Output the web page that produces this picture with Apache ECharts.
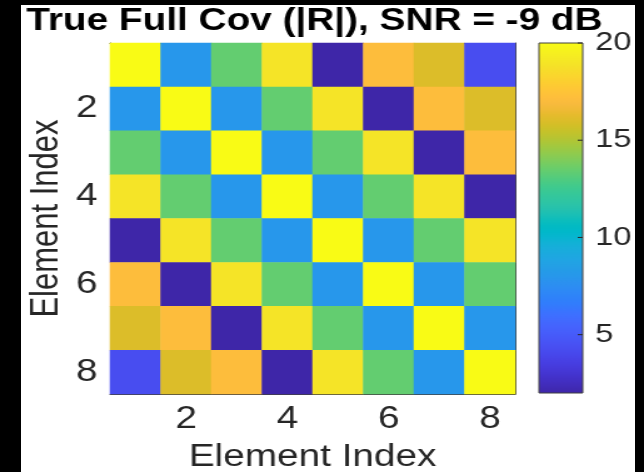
<!DOCTYPE html>
<html>
<head>
<meta charset="utf-8">
<script src="https://cdn.jsdelivr.net/npm/echarts@6/dist/echarts.min.js"></script>
<style>
html, body { margin: 0; padding: 0; background: #000; width: 644px; height: 472px; overflow: hidden; }
#paper { position: absolute; left: 21px; top: 5px; width: 614px; height: 467px; background: #fff; }
/* the reference figure is stretched horizontally, so draw narrower and stretch */
#main { position: absolute; left: 0; top: 0; width: 515px; height: 472px; transform: scaleX(1.2505); transform-origin: 0 0; }
</style>
</head>
<body>
<div id="paper"></div>
<div id="main"></div>
<script>
// element indices
var xCats = ['1', '2', '3', '4', '5', '6', '7', '8'];
var yCats = ['1', '2', '3', '4', '5', '6', '7', '8'];
// |R| (rows top to bottom)
var covAbs = [
    [20.0, 8.0, 13.4, 18.9, 2.0, 17.1, 16.0, 4.3],
    [8.0, 20.0, 8.0, 13.4, 18.9, 2.0, 17.1, 16.0],
    [13.4, 8.0, 20.0, 8.0, 13.4, 18.9, 2.0, 17.1],
    [18.9, 13.4, 8.0, 20.0, 8.0, 13.4, 18.9, 2.0],
    [2.0, 18.9, 13.4, 8.0, 20.0, 8.0, 13.4, 18.9],
    [17.1, 2.0, 18.9, 13.4, 8.0, 20.0, 8.0, 13.4],
    [16.0, 17.1, 2.0, 18.9, 13.4, 8.0, 20.0, 8.0],
    [4.3, 16.0, 17.1, 2.0, 18.9, 13.4, 8.0, 20.0]
];
var colorLimits = [2.0, 20];
var cbTicks = [5, 10, 15, 20];

// parula, 64 entries
var parula = [
    [0.2422,0.1504,0.6603],[0.2504,0.1650,0.7076],[0.2578,0.1818,0.7511],[0.2647,0.1978,0.7952],
    [0.2706,0.2147,0.8364],[0.2751,0.2342,0.8710],[0.2783,0.2559,0.8991],[0.2803,0.2782,0.9221],
    [0.2813,0.3006,0.9414],[0.2810,0.3228,0.9579],[0.2795,0.3447,0.9717],[0.2760,0.3667,0.9829],
    [0.2699,0.3892,0.9906],[0.2602,0.4123,0.9952],[0.2440,0.4358,0.9988],[0.2206,0.4603,0.9973],
    [0.1963,0.4847,0.9892],[0.1834,0.5074,0.9798],[0.1786,0.5289,0.9682],[0.1764,0.5499,0.9520],
    [0.1687,0.5703,0.9359],[0.1540,0.5902,0.9218],[0.1460,0.6091,0.9079],[0.1380,0.6276,0.8973],
    [0.1248,0.6459,0.8883],[0.1113,0.6635,0.8763],[0.0952,0.6798,0.8598],[0.0689,0.6948,0.8394],
    [0.0297,0.7082,0.8163],[0.0036,0.7203,0.7917],[0.0067,0.7312,0.7660],[0.0433,0.7411,0.7394],
    [0.0964,0.7500,0.7120],[0.1408,0.7584,0.6842],[0.1717,0.7670,0.6554],[0.1938,0.7758,0.6251],
    [0.2161,0.7843,0.5923],[0.2470,0.7918,0.5567],[0.2906,0.7973,0.5188],[0.3406,0.8008,0.4789],
    [0.3909,0.8029,0.4354],[0.4456,0.8024,0.3909],[0.5044,0.7993,0.3480],[0.5616,0.7942,0.3045],
    [0.6174,0.7876,0.2612],[0.6720,0.7793,0.2227],[0.7242,0.7698,0.1910],[0.7738,0.7598,0.1646],
    [0.8203,0.7498,0.1535],[0.8634,0.7406,0.1596],[0.9035,0.7330,0.1774],[0.9393,0.7288,0.2100],
    [0.9728,0.7298,0.2394],[0.9956,0.7434,0.2371],[0.9970,0.7659,0.2199],[0.9952,0.7893,0.2028],
    [0.9892,0.8136,0.1885],[0.9786,0.8386,0.1766],[0.9676,0.8639,0.1643],[0.9610,0.8890,0.1537],
    [0.9597,0.9135,0.1423],[0.9628,0.9373,0.1265],[0.9691,0.9606,0.1064],[0.9769,0.9839,0.0805]
];
var parulaCss = parula.map(function (c) {
    return 'rgb(' + Math.round(c[0] * 255) + ',' + Math.round(c[1] * 255) + ',' + Math.round(c[2] * 255) + ')';
});
var cbStops = parulaCss.map(function (c, i) {
    return { offset: i / (parulaCss.length - 1), color: c };
});

var heatData = [];
covAbs.forEach(function (row, i) {
    row.forEach(function (v, j) {
        heatData.push([j, i, v]);
    });
});

var font = 'Liberation Sans, Arial, Helvetica, sans-serif';
var ink = '#262626';
var boxLine = { show: true, lineStyle: { color: '#404040', width: 1 } };
var evenOnly = function (idx) { return idx % 2 === 1; };
var catTick = { show: true, inside: true, length: 4, alignWithLabel: true, interval: evenOnly, lineStyle: { color: ink, width: 1 } };

var chart = echarts.init(document.getElementById('main'));
var option = {
    animation: false,
    textStyle: { fontFamily: font },
    title: {
        text: 'True Full Cov (|R|), SNR = -9 dB',
        left: 21,
        top: 6,
        padding: 0,
        textStyle: { fontFamily: font, fontSize: 31, fontWeight: 'bold', color: '#000' }
    },
    grid: [
        { left: 88, top: 43, width: 324, height: 351, outerBoundsMode: 'none', containLabel: false },
        { left: 431, top: 43, width: 35, height: 350, outerBoundsMode: 'none', containLabel: false }
    ],
    xAxis: [
        {
            type: 'category', gridIndex: 0, data: xCats, position: 'bottom',
            name: 'Element Index', nameLocation: 'middle', nameGap: 48, nameMoveOverlap: false,
            nameTextStyle: { fontFamily: font, fontSize: 31, color: ink },
            axisLine: boxLine, axisTick: catTick,
            axisLabel: { interval: evenOnly, fontSize: 31, color: ink, margin: 10 },
            splitLine: { show: false }
        },
        {
            type: 'category', gridIndex: 0, data: xCats, position: 'top',
            axisLine: boxLine, axisTick: catTick, axisLabel: { show: false }, splitLine: { show: false }
        },
        { type: 'value', gridIndex: 1, min: 0, max: 1, show: false }
    ],
    yAxis: [
        {
            type: 'category', gridIndex: 0, data: yCats, inverse: true, position: 'left',
            name: 'Element Index', nameLocation: 'middle', nameGap: 35, nameMoveOverlap: false,
            nameTextStyle: { fontFamily: font, fontSize: 31, color: ink },
            axisLine: boxLine, axisTick: catTick,
            axisLabel: { interval: evenOnly, fontSize: 31, color: ink, margin: 10 },
            splitLine: { show: false }
        },
        {
            type: 'category', gridIndex: 0, data: yCats, inverse: true, position: 'right',
            axisLine: boxLine, axisTick: catTick, axisLabel: { show: false }, splitLine: { show: false }
        },
        {
            type: 'value', gridIndex: 1, min: colorLimits[0], max: colorLimits[1], position: 'right',
            axisLine: { show: false },
            axisTick: { show: false },
            axisLabel: { customValues: cbTicks, fontSize: 26, color: ink, margin: 10 },
            splitLine: { show: false }
        }
    ],
    visualMap: {
        type: 'continuous', show: false, seriesIndex: 0,
        min: colorLimits[0], max: colorLimits[1],
        inRange: { color: parulaCss }
    },
    series: [
        {
            type: 'heatmap', xAxisIndex: 0, yAxisIndex: 0,
            data: heatData,
            itemStyle: { borderWidth: 0 },
            emphasis: { disabled: true },
            progressive: 0
        },
        {
            // colorbar: gradient box plus inward ticks on its right edge
            type: 'custom', xAxisIndex: 2, yAxisIndex: 2,
            data: [[0, colorLimits[0], 1, colorLimits[1]]],
            renderItem: function (params, api) {
                var p0 = api.coord([api.value(0), api.value(1)]);
                var p1 = api.coord([api.value(2), api.value(3)]);
                var kids = [{
                    type: 'rect',
                    shape: { x: p0[0], y: p1[1], width: p1[0] - p0[0], height: p0[1] - p1[1] },
                    style: {
                        fill: new echarts.graphic.LinearGradient(0, 1, 0, 0, cbStops),
                        stroke: '#404040', lineWidth: 1
                    }
                }];
                cbTicks.forEach(function (t) {
                    var p = api.coord([api.value(2), t]);
                    kids.push({
                        type: 'line',
                        shape: { x1: p[0] - 4, y1: p[1], x2: p[0], y2: p[1] },
                        style: { stroke: ink, lineWidth: 1 }
                    });
                });
                return { type: 'group', children: kids };
            }
        }
    ]
};
chart.setOption(option);
</script>
</body>
</html>
